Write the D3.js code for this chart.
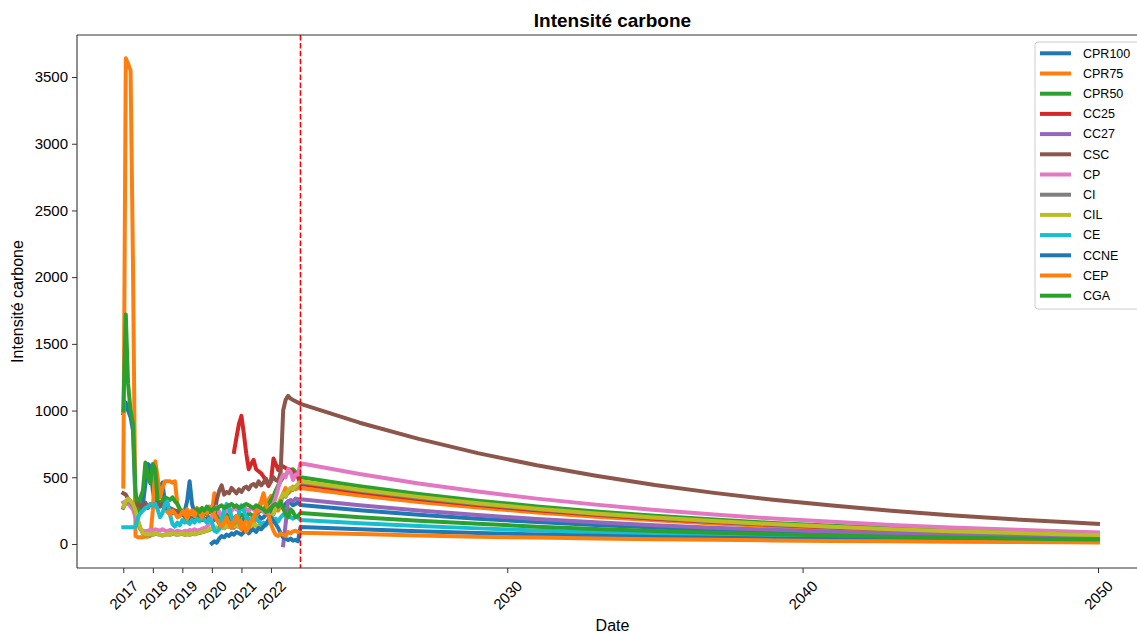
<!DOCTYPE html>
<html><head><meta charset="utf-8">
<script src="https://cdn.jsdelivr.net/npm/d3@7"></script>
<style>
body{margin:0;background:#fff;overflow:hidden}
svg{display:block}
text{font-family:"Liberation Sans",Arial,Helvetica,sans-serif;fill:#000}
</style>
</head><body>
<svg id="c" width="1137" height="633"></svg>
<script>
// ---------------- DATA ----------------
const seriesNames = ["CPR100","CPR75","CPR50","CC25","CC27","CSC","CP","CI","CIL","CE","CCNE","CEP","CGA"];
const seriesColors = ["#1f77b4","#ff7f0e","#2ca02c","#d62728","#9467bd","#8c564b","#e377c2","#7f7f7f","#bcbd22","#17becf","#1f77b4","#ff7f0e","#2ca02c"];

// monthly history, Jan 2017 .. Dec 2022 (72 months)
const histStartYear = 2017;
const histMonths = 72;
const N = null;

const histCPR100 = [980,1060,1000,950,850,300,200,250,300,450,600,580,
  400,300,350,420,460,300,250,260,230,250,240,260,
  230,250,320,470,300,230,220,200,210,190,180,200,
  190,180,200,190,180,170,200,180,190,170,160,180,
  170,190,160,170,180,190,200,210,190,200,220,250,
  240,260,280,300,280,270,300,320,310,290,300,310];
const histCPR75 = [430,3640,3600,3550,2080,60,50,50,50,55,55,60,
  250,620,500,350,420,470,470,470,460,470,300,260,
  250,230,260,220,250,200,230,260,210,240,220,260,
  230,380,220,180,200,150,170,130,160,120,150,200,
  160,140,180,130,170,150,200,260,300,340,280,330,
  360,300,280,250,300,380,420,380,400,430,410,420];
const histCPR50 = [1000,1720,1200,1000,900,400,230,350,400,610,500,455,
  600,560,330,290,330,350,340,330,350,320,300,260,
  230,200,180,190,170,200,210,230,250,240,220,250,
  240,220,200,210,190,200,220,210,200,190,210,200,
  220,210,200,230,220,210,230,240,250,260,280,300,
  330,360,400,440,470,500,520,540,555,560,540,520];
const histCC25 = [N,N,N,N,N,N,N,N,N,N,N,N,
  N,N,N,N,N,N,N,N,N,N,N,N,
  N,N,N,N,N,N,N,N,N,N,N,N,
  N,N,N,N,N,N,N,N,N,690,800,900,
  960,820,680,560,600,630,560,545,530,505,470,435,
  470,640,600,555,590,580,570,560,555,540,520,500];
const histCC27 = [N,N,N,N,N,N,N,N,N,N,N,N,
  N,N,N,N,N,N,N,N,N,N,N,N,
  N,N,N,N,N,N,N,N,N,N,N,N,
  N,N,N,N,N,N,N,N,N,N,N,N,
  N,N,N,N,N,N,N,N,N,N,N,N,
  N,N,N,N,N,-10,150,320,330,320,340,335];
const histCSC = [380,370,340,320,300,290,300,280,290,310,270,300,
  290,300,310,280,300,290,280,270,260,250,240,230,
  220,210,200,200,190,195,185,190,180,185,190,180,
  185,200,330,400,440,370,390,380,420,400,380,410,
  390,420,430,410,440,450,430,470,440,460,490,450,
  470,500,480,470,540,1000,1080,1110,1090,1080,1070,1060];
const histCP = [310,320,300,280,260,200,150,110,100,95,100,105,
  100,110,105,100,110,100,95,105,100,90,100,95,
  90,100,95,105,100,110,100,105,115,120,130,150,
  200,250,280,240,200,230,260,240,250,270,260,250,
  270,280,260,250,270,260,240,250,260,240,230,250,
  280,300,350,420,480,520,500,560,540,480,520,520];
const histCI = [270,310,330,310,290,240,170,115,78,72,68,72,
  68,76,72,68,64,68,72,68,76,72,68,72,
  76,68,72,68,76,72,78,82,88,92,98,105,
  115,112,120,118,125,118,135,128,122,130,135,128,
  118,128,135,122,130,145,138,128,140,138,148,165,
  195,225,265,295,335,370,355,395,415,405,425,445];
const histCIL = [280,320,340,320,300,250,180,120,80,75,70,75,
  70,80,75,70,65,70,75,70,80,75,70,75,
  80,70,75,70,80,75,80,85,90,95,100,110,
  120,115,125,120,130,120,140,130,125,135,140,130,
  120,130,140,125,135,150,140,130,145,140,150,170,
  200,230,270,300,340,380,360,400,420,410,430,450];
const histCE = [125,125,125,125,125,130,200,230,250,270,280,300,
  290,300,260,200,230,300,320,220,150,130,160,140,
  180,160,170,150,180,160,190,170,200,180,160,190,
  170,100,90,110,180,260,300,280,200,150,170,230,
  290,250,200,190,180,200,190,170,150,160,140,170,
  150,180,190,170,200,220,210,230,200,190,210,200];
const histCCNE = [N,N,N,N,N,N,N,N,N,N,N,N,
  N,N,N,N,N,N,N,N,N,N,N,N,
  N,N,N,N,N,N,N,N,N,N,N,N,
  5,20,10,40,60,50,70,60,80,70,90,80,
  70,90,100,80,100,110,90,120,110,130,150,180,
  200,170,150,120,80,50,40,30,40,25,30,20];
const histCEP = [N,N,N,N,N,N,N,N,N,N,N,N,
  N,N,N,N,N,N,240,220,250,230,200,210,
  240,220,190,230,250,210,270,240,200,260,230,280,
  250,220,180,150,130,160,200,150,120,170,210,160,
  110,140,90,130,170,200,240,280,320,380,300,220,
  150,100,70,60,80,70,60,90,80,95,100,90];
const histCGA = [N,N,N,N,N,N,N,N,N,N,N,N,
  N,N,N,N,N,N,N,N,N,N,N,N,
  N,N,N,N,N,N,260,240,270,250,280,260,
  250,270,260,280,290,270,280,290,300,280,290,270,
  280,290,300,290,280,270,290,280,270,260,240,250,
  270,290,300,280,320,270,220,200,260,240,200,210];

// projections 2023 -> 2050
const projYears  = [2023,2025,2027,2029,2031,2033,2035,2037,2039,2041,2043,2045,2047,2049,2050];
const projCPR100 = [292,253,219,190,164,142,123,107,92,80,69,60,52,45,42];
const projCPR75  = [420,364,315,273,236,205,177,153,133,115,100,86,75,65,60];
const projCPR50  = [500,433,375,325,281,244,211,183,158,137,119,103,89,77,72];
const projCC25   = [450,390,338,292,253,219,189,164,142,123,107,92,80,69,64];
const projCC27   = [335,290,251,217,188,163,141,122,106,92,79,69,60,52,48];
const projCSC    = [1050,909,788,681,590,511,442,383,332,288,249,215,187,162,150];
const projCP     = [605,524,454,393,340,295,255,221,191,166,143,124,108,93,87];
const projCI     = [462,400,347,300,260,225,195,169,146,127,109,95,82,71,66];
const projCIL    = [470,407,353,305,264,229,198,172,149,129,111,96,84,72,67];
const projCE     = [180,156,135,117,101,88,76,66,57,49,43,37,32,28,26];
const projCCNE   = [127,110,95,82,71,62,53,46,40,35,30,26,23,20,18];
const projCEP    = [85,74,64,55,48,41,36,31,27,23,20,17,15,13,12];
const projCGA    = [232,201,174,151,130,113,98,85,73,64,55,48,41,36,33];

const yTickValues = [0,500,1000,1500,2000,2500,3000,3500];
const xTickYears = [2017,2018,2019,2020,2021,2022,2030,2040,2050];
const cutoffYear = 2023;
const titleText = "Intensité carbone";
const yLabelText = "Intensité carbone";
const xLabelText = "Date";

const histAll = [histCPR100,histCPR75,histCPR50,histCC25,histCC27,histCSC,histCP,histCI,histCIL,histCE,histCCNE,histCEP,histCGA];
const projAll = [projCPR100,projCPR75,projCPR50,projCC25,projCC27,projCSC,projCP,projCI,projCIL,projCE,projCCNE,projCEP,projCGA];

// ---------------- CHART ----------------
const svg = d3.select("#c");
const box = {left:77, right:1148, top:35, bottom:568};
const x = d3.scaleTime().domain([new Date(2017,0,1), new Date(2050,0,1)]).range([123.3, 1098]);
const y = d3.scaleLinear().domain([-180, 3815]).range([box.bottom, box.top]);

const histDates = d3.timeMonth.range(new Date(histStartYear,0,1), new Date(histStartYear,histMonths,1));

const line = d3.line().x(d => x(d.date)).y(d => y(d.v)).defined(d => d.v != null);

const gLines = svg.append("g");
seriesNames.forEach((name, s) => {
  const pts = histDates.map((d,i) => ({date:d, v:histAll[s][i]})).filter(p => p.v != null)
    .concat(projYears.map((yr,i) => ({date:new Date(yr,0,1), v:projAll[s][i]})));
  gLines.append("path").datum(pts)
    .attr("d", line)
    .attr("fill","none")
    .attr("stroke", seriesColors[s])
    .attr("stroke-width", 4)
    .attr("stroke-linejoin","round")
    .attr("stroke-linecap","square");
});

// cutoff line
svg.append("line")
  .attr("x1", x(new Date(cutoffYear,0,1))).attr("x2", x(new Date(cutoffYear,0,1)))
  .attr("y1", box.top).attr("y2", box.bottom)
  .attr("stroke","#ff0000").attr("stroke-width",1.6).attr("stroke-dasharray","5.5,2.4");

// spines
const sp = svg.append("g").attr("stroke","#333").attr("stroke-width",1.1);
sp.append("line").attr("x1",box.left).attr("x2",box.left).attr("y1",box.top).attr("y2",box.bottom);
sp.append("line").attr("x1",box.left).attr("x2",box.right).attr("y1",box.bottom).attr("y2",box.bottom);
sp.append("line").attr("x1",box.left).attr("x2",box.right).attr("y1",box.top).attr("y2",box.top);
sp.append("line").attr("x1",box.right).attr("x2",box.right).attr("y1",box.top).attr("y2",box.bottom);

// y axis
const gy = svg.append("g").attr("transform",`translate(${box.left},0)`)
  .call(d3.axisLeft(y).tickValues(yTickValues).tickFormat(d3.format("d")).tickSize(5).tickPadding(4));
gy.select(".domain").remove();
gy.selectAll("line").attr("stroke","#333");
gy.selectAll("text").style("font-size","15px").attr("fill","#000");

// x axis
const gx = svg.append("g").attr("transform",`translate(0,${box.bottom})`)
  .call(d3.axisBottom(x).tickValues(xTickYears.map(yr => new Date(yr,0,1))).tickSize(5).tickFormat(d3.timeFormat("%Y")));
gx.select(".domain").remove();
gx.selectAll("line").attr("stroke","#333");
gx.selectAll(".tick text").each(function(){
  const t = d3.select(this);
  t.style("font-size","15px").attr("fill","#000").attr("text-anchor","middle").attr("y",null).attr("dy","0.35em");
  const w = this.getComputedTextLength();
  const h = (w + 15) * Math.SQRT1_2;
  const cy = 10 + h/2;
  t.attr("transform",`translate(0,${cy}) rotate(-45)`);
});

// title and labels
svg.append("text").attr("x",(box.left+box.right)/2).attr("y",27).attr("text-anchor","middle")
  .style("font-size","19px").style("font-weight","bold").text(titleText);
svg.append("text").attr("transform","translate(17,301.5) rotate(-90)").attr("text-anchor","middle").attr("dy","0.35em")
  .style("font-size","16px").text(yLabelText);
svg.append("text").attr("x",(box.left+box.right)/2).attr("y",625).attr("dy","0.35em").attr("text-anchor","middle")
  .style("font-size","16px").text(xLabelText);

// legend
const lg = svg.append("g");
lg.append("rect").attr("x",1035).attr("y",42).attr("width",130).attr("height",267).attr("rx",3)
  .attr("fill","#fff").attr("fill-opacity",0.8).attr("stroke","#cccccc").attr("stroke-width",1);
seriesNames.forEach((name, s) => {
  const yy = 53.3 + s*20.2;
  lg.append("line").attr("x1",1040).attr("x2",1071).attr("y1",yy).attr("y2",yy)
    .attr("stroke",seriesColors[s]).attr("stroke-width",4);
  lg.append("text").attr("x",1083).attr("y",yy).attr("dy","0.35em").style("font-size","12.5px").text(name);
});
</script>
</body></html>
